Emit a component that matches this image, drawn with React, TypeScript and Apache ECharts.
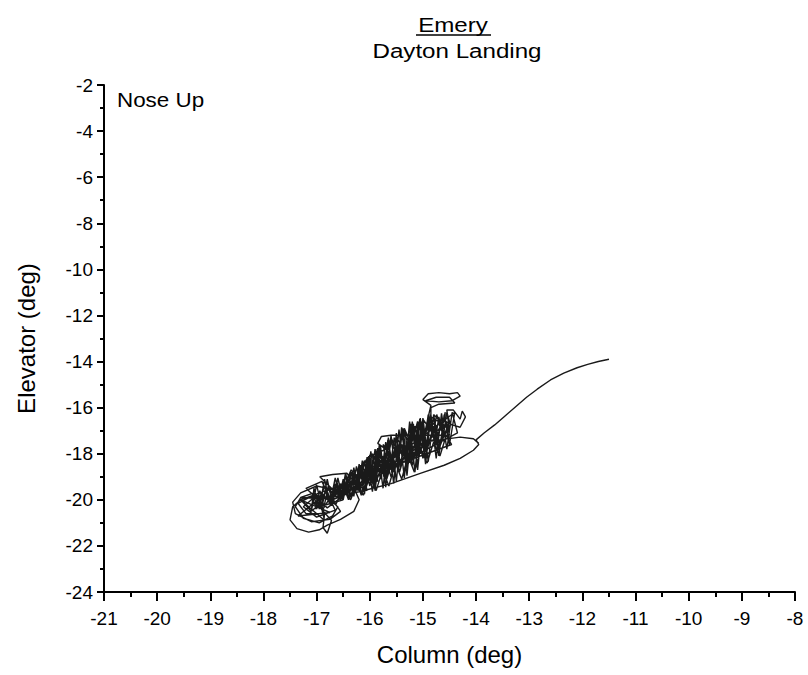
import React, { useEffect, useRef } from "react";
import * as echarts from "echarts";

// Axis tick settings (data units)
const xTicks = { min: -21, max: -8, interval: 1 };
const yTicks = { min: -24, max: -2, interval: 2 };

const titleMain = "Emery";
const titleSub = "Dayton Landing";
const annotation = "Nose Up";
const xName = "Column (deg)";
const yName = "Elevator (deg)";

// Trace: [column deg, elevator deg]
const tailSegment: number[][] = [
  [-11.5, -13.9], [-11.7, -14.0], [-11.9, -14.12], [-12.1, -14.27], [-12.35, -14.5],
  [-12.6, -14.8], [-12.85, -15.2], [-13.05, -15.55], [-13.25, -15.95], [-13.45, -16.35],
  [-13.65, -16.75], [-13.85, -17.1], [-14.0, -17.4],
];
const loopSegment: number[][] = [
  [-13.95, -17.6], [-14.05, -17.85], [-14.3, -18.2], [-14.6, -18.5], [-15.05, -18.85],
  [-15.6, -19.3], [-16.2, -19.65], [-16.85, -19.95], [-17.25, -19.9], [-17.45, -20.3],
  [-17.5, -20.87], [-17.37, -21.25], [-17.15, -21.4], [-16.95, -21.3], [-16.8, -21.1],
  [-16.55, -20.85], [-16.3, -20.5],
];
const densePass1: number[][] = [
  [-16.2, -20.0], [-16.35, -19.2], [-16.05, -19.6], [-16.15, -18.6], [-15.85, -19.2],
  [-15.95, -18.0], [-15.65, -18.9], [-15.75, -17.6], [-15.45, -18.6], [-15.5, -17.3],
  [-15.2, -18.3], [-15.25, -16.9], [-14.95, -17.9], [-15.0, -16.5], [-14.7, -17.5],
  [-14.8, -16.3], [-14.5, -17.0], [-14.55, -16.1],
];
const spikeSegment: number[][] = [
  [-14.43, -16.1], [-14.3, -16.5], [-14.26, -16.15], [-14.2, -16.4], [-14.3, -16.85],
  [-14.45, -16.75],
];
const densePass2: number[][] = [
  [-14.65, -16.5], [-14.75, -17.6], [-14.9, -16.4], [-15.05, -18.0], [-15.15, -16.8],
  [-15.3, -18.5], [-15.4, -17.1], [-15.55, -18.8], [-15.65, -17.5], [-15.8, -19.1],
  [-15.9, -17.8], [-16.0, -19.4], [-16.1, -18.4], [-16.25, -19.6], [-16.35, -18.8],
  [-16.5, -19.9], [-16.6, -19.1], [-16.75, -20.2], [-16.85, -19.4], [-17.0, -20.4],
  [-17.05, -19.7],
];
const lowerLeftLoops: number[][] = [
  [-17.3, -19.9], [-17.4, -20.3], [-17.25, -20.8], [-16.95, -21.0], [-16.7, -20.7],
  [-16.6, -20.3], [-16.8, -19.9], [-17.1, -19.85], [-17.35, -20.15], [-17.2, -20.6],
  [-16.85, -20.6], [-16.88, -21.2], [-16.8, -21.45], [-16.72, -20.9], [-16.95, -20.3],
  [-16.5, -20.0], [-16.94, -19.0], [-16.7, -18.9], [-16.43, -18.85], [-16.3, -19.2],
];
const lowerLeftExtra: number[][] = [
  [-16.6, -19.6], [-17.0, -19.4], [-17.3, -19.7], [-17.45, -20.1], [-17.4, -20.6],
  [-17.1, -20.95], [-16.75, -20.85], [-16.55, -20.5], [-16.7, -20.0], [-17.0, -19.8],
  [-17.25, -20.3], [-17.0, -20.75], [-16.65, -20.45], [-16.9, -19.2], [-17.2, -19.5],
  [-16.8, -20.35],
];
const denseP1: number[][] = [
  [-14.4, -16.2], [-14.5, -17.6], [-14.6, -16.3], [-14.7, -18.1], [-14.8, -16.35],
  [-14.9, -18.35], [-15.0, -16.45], [-15.1, -18.7], [-15.2, -16.6], [-15.3, -18.95],
  [-15.4, -16.85], [-15.5, -19.2], [-15.6, -17.2], [-15.7, -19.45], [-15.8, -17.65],
  [-15.9, -19.6], [-16.0, -18.05], [-16.1, -19.75], [-16.2, -18.45], [-16.3, -19.85],
  [-16.4, -18.9], [-16.5, -20.0], [-16.6, -19.05], [-16.7, -20.2], [-16.8, -19.1],
  [-16.9, -20.35], [-17.0, -19.35], [-17.1, -20.5],
];
const denseP2: number[][] = [
  [-17.05, -19.5], [-16.95, -20.4], [-16.85, -19.1], [-16.75, -20.2], [-16.65, -19.05],
  [-16.55, -20.05], [-16.45, -18.9], [-16.35, -19.9], [-16.25, -18.55], [-16.15, -19.8],
  [-16.05, -18.15], [-15.95, -19.65], [-15.85, -17.75], [-15.75, -19.5], [-15.65, -17.3],
  [-15.55, -19.3], [-15.45, -16.95], [-15.35, -19.05], [-15.25, -16.6], [-15.15, -18.8],
  [-15.05, -16.45], [-14.95, -18.45], [-14.85, -16.3], [-14.75, -18.2], [-14.65, -16.25],
  [-14.55, -17.8], [-14.45, -16.2], [-14.35, -17.1],
];
const densePass3: number[][] = [
  [-16.7, -20.0], [-16.55, -19.3], [-16.4, -19.9], [-16.3, -18.9], [-16.1, -19.5],
  [-16.05, -18.5], [-15.9, -19.1], [-15.85, -17.9], [-15.7, -18.7], [-15.6, -17.5],
  [-15.4, -18.4], [-15.35, -17.1], [-15.15, -18.1], [-15.1, -16.7], [-14.9, -17.7],
  [-14.9, -16.4],
];
const blobSegment: number[][] = [
  [-14.85, -15.9], [-15.0, -15.65], [-14.9, -15.4], [-14.7, -15.35], [-14.5, -15.4],
  [-14.35, -15.35], [-14.3, -15.5], [-14.45, -15.7], [-14.7, -15.75], [-14.95, -15.7],
  [-14.75, -15.55], [-14.5, -15.55], [-14.4, -15.8], [-14.7, -15.85], [-14.85, -16.0],
  [-14.85, -16.4],
];
const denseP3: number[][] = [
  [-14.5, -16.9], [-14.7, -17.5], [-14.75, -16.8], [-14.95, -17.9], [-15.0, -17.1],
  [-15.2, -18.2], [-15.25, -17.3], [-15.45, -18.5], [-15.5, -17.7], [-15.7, -18.9],
  [-15.75, -18.1], [-15.95, -19.2], [-16.0, -18.5], [-16.2, -19.4], [-16.25, -18.9],
  [-16.45, -19.6], [-16.5, -19.3], [-16.7, -19.8], [-16.75, -19.5], [-16.95, -20.0],
];
const denseP4: number[][] = [
  [-16.9, -19.7], [-16.8, -20.0], [-16.6, -19.4], [-16.5, -19.75], [-16.3, -19.1],
  [-16.2, -19.6], [-16.0, -18.6], [-15.9, -19.3], [-15.7, -18.2], [-15.6, -19.0],
  [-15.4, -17.6], [-15.3, -18.6], [-15.1, -17.2], [-15.0, -18.2], [-14.8, -16.9],
  [-14.7, -17.8], [-14.5, -16.6],
];
const densePassA: number[][] = [
  [-14.55, -16.2], [-14.62, -17.3], [-14.7, -16.4], [-14.78, -17.6], [-14.86, -16.3],
  [-14.95, -17.9], [-15.02, -16.6], [-15.1, -18.1], [-15.18, -16.7], [-15.26, -18.4],
  [-15.34, -17.0], [-15.42, -18.6], [-15.5, -17.1], [-15.58, -18.9], [-15.66, -17.4],
  [-15.74, -19.0], [-15.82, -17.6], [-15.9, -19.2], [-15.98, -17.9], [-16.06, -19.4],
  [-16.14, -18.3], [-16.22, -19.6], [-16.3, -18.6], [-16.38, -19.8], [-16.46, -18.9],
  [-16.54, -19.9], [-16.62, -19.2], [-16.7, -20.1], [-16.78, -19.4], [-16.86, -20.3],
  [-16.94, -19.6], [-17.02, -20.4],
];
const densePassB: number[][] = [
  [-16.98, -19.9], [-16.9, -20.2], [-16.82, -19.5], [-16.74, -20.0], [-16.66, -19.3],
  [-16.58, -19.95], [-16.5, -19.1], [-16.42, -19.7], [-16.34, -18.8], [-16.26, -19.5],
  [-16.18, -18.5], [-16.1, -19.3], [-16.02, -18.1], [-15.94, -19.1], [-15.86, -17.8],
  [-15.78, -18.9], [-15.7, -17.5], [-15.62, -18.7], [-15.54, -17.3], [-15.46, -18.4],
  [-15.38, -16.9], [-15.3, -18.2], [-15.22, -16.7], [-15.14, -17.9], [-15.06, -16.5],
  [-14.98, -17.6], [-14.9, -16.3], [-14.82, -17.3], [-14.74, -16.3], [-14.66, -17.0],
  [-14.58, -16.2],
];
const denseP5: number[][] = [
  [-14.6, -16.6], [-14.72, -17.0], [-14.85, -16.5], [-14.98, -17.3], [-15.1, -16.6],
  [-15.22, -17.6], [-15.35, -16.9], [-15.48, -17.9], [-15.6, -17.3], [-15.72, -18.3],
  [-15.85, -17.8], [-15.98, -18.7], [-16.1, -18.3], [-16.22, -19.1], [-16.35, -18.7],
  [-16.48, -19.4],
];
const denseP6: number[][] = [
  [-16.6, -20.0], [-16.48, -19.6], [-16.36, -20.0], [-16.24, -19.3], [-16.12, -19.8],
  [-16.0, -19.0], [-15.88, -19.6], [-15.76, -18.7], [-15.64, -19.4], [-15.52, -18.4],
  [-15.4, -19.1], [-15.28, -18.1], [-15.16, -18.8], [-15.04, -17.8], [-14.92, -18.4],
  [-14.8, -17.5], [-14.68, -18.1], [-14.56, -17.2], [-14.46, -17.6],
];
const starSegment: number[][] = [
  [-17.3, -20.0], [-16.75, -20.55], [-17.35, -20.7], [-16.95, -19.95], [-16.85, -20.9],
  [-17.3, -20.0], [-17.1, -20.5], [-16.9, -20.1],
];
const densePassD: number[][] = [
  [-17.05, -20.2], [-16.95, -20.0], [-16.88, -20.4], [-16.72, -19.8], [-16.64, -20.2],
  [-16.48, -19.5], [-16.4, -20.0], [-16.24, -19.2], [-16.16, -19.8], [-16.0, -18.8],
  [-15.92, -19.5], [-15.76, -18.4], [-15.68, -19.1], [-15.52, -17.9], [-15.44, -18.8],
  [-15.28, -17.5], [-15.2, -18.5], [-15.04, -17.1], [-14.96, -18.2], [-14.8, -16.8],
  [-14.72, -17.8], [-14.56, -16.6], [-14.5, -17.2],
];
const bumpSegment: number[][] = [
  [-15.6, -17.2], [-15.78, -17.25], [-15.85, -17.55], [-15.7, -17.8], [-16.05, -18.2],
  [-16.12, -18.5], [-15.95, -18.6], [-15.8, -18.3],
];
const returnSegment: number[][] = [
  [-14.7, -17.3], [-15.0, -17.6], [-15.2, -17.7], [-15.4, -17.9], [-15.6, -18.2],
  [-15.8, -18.5], [-16.0, -18.8], [-16.2, -19.0], [-16.4, -19.5], [-16.6, -19.7],
  [-16.8, -20.1], [-16.6, -19.9], [-16.2, -19.3], [-15.8, -18.9], [-15.4, -18.3],
  [-15.0, -17.5], [-14.68, -17.4], [-14.3, -17.28], [-14.05, -17.35], [-13.95, -17.55],
];

const trace = [
  ...tailSegment, ...loopSegment, ...densePass1, ...spikeSegment, ...densePass2,
  ...lowerLeftLoops, ...lowerLeftExtra, ...denseP1, ...denseP2, ...densePass3, ...blobSegment,
  ...denseP3, ...denseP4, ...densePassA, ...densePassB, ...denseP5, ...denseP6, ...starSegment,
  ...densePassD, ...bumpSegment, ...returnSegment,
];

const FONT = "Liberation Sans, Arial, sans-serif";

export default function App() {
  const ref = useRef<HTMLDivElement>(null);
  useEffect(() => {
    if (!ref.current) return;
    const chart = echarts.init(ref.current, undefined, { renderer: "svg" });
    chart.setOption({
      animation: false,
      backgroundColor: "#ffffff",
      textStyle: { fontFamily: FONT, color: "#000" },
      grid: { left: 104, right: 13, top: 85, bottom: 83, containLabel: false },
      graphic: [
        {
          type: "text",
          x: 453,
          y: 25,
          scaleX: 1.15,
          style: { text: titleMain, font: `21px ${FONT}`, fill: "#000", textAlign: "center", textVerticalAlign: "middle" },
        },
        {
          type: "line",
          shape: { x1: 416, y1: 35, x2: 491, y2: 35 },
          style: { stroke: "#000", lineWidth: 1.5 },
        },
        {
          type: "text",
          x: 457,
          y: 51,
          scaleX: 1.15,
          style: { text: titleSub, font: `21px ${FONT}`, fill: "#000", textAlign: "center", textVerticalAlign: "middle" },
        },
        {
          type: "text",
          x: 117,
          y: 100,
          scaleX: 1.12,
          style: { text: annotation, font: `20px ${FONT}`, fill: "#000", textAlign: "left", textVerticalAlign: "middle" },
        },
      ],
      xAxis: {
        type: "value",
        min: xTicks.min,
        max: xTicks.max,
        interval: xTicks.interval,
        name: xName,
        nameLocation: "middle",
        nameGap: 50,
        nameTextStyle: { fontSize: 24, color: "#000", fontFamily: FONT },
        axisLine: { show: true, onZero: false, lineStyle: { color: "#000", width: 2 } },
        axisTick: { show: true, inside: false, length: 9, lineStyle: { color: "#000", width: 2 } },
        minorTick: { show: true, splitNumber: 2, length: 5, lineStyle: { color: "#000", width: 2 } },
        axisLabel: { fontSize: 19, color: "#000", margin: 17, fontFamily: FONT },
        splitLine: { show: false },
      },
      yAxis: {
        type: "value",
        min: yTicks.min,
        max: yTicks.max,
        interval: yTicks.interval,
        name: yName,
        nameLocation: "middle",
        nameRotate: 90,
        nameGap: 66,
        nameTextStyle: { fontSize: 24, color: "#000", fontFamily: FONT },
        axisLine: { show: true, onZero: false, lineStyle: { color: "#000", width: 2 } },
        axisTick: { show: true, inside: false, length: 7, lineStyle: { color: "#000", width: 2 } },
        minorTick: { show: true, splitNumber: 2, length: 4, lineStyle: { color: "#000", width: 2 } },
        axisLabel: { fontSize: 19, color: "#000", margin: 11, fontFamily: FONT },
        splitLine: { show: false },
      },
      series: [
        {
          type: "line",
          data: trace,
          showSymbol: false,
          symbol: "none",
          smooth: false,
          lineStyle: { color: "#1a1a1a", width: 1.4 },
        },
      ],
    });
    return () => chart.dispose();
  }, []);
  return <div ref={ref} style={{ width: 808, height: 675, position: "absolute", left: 0, top: 0 }} />;
}
